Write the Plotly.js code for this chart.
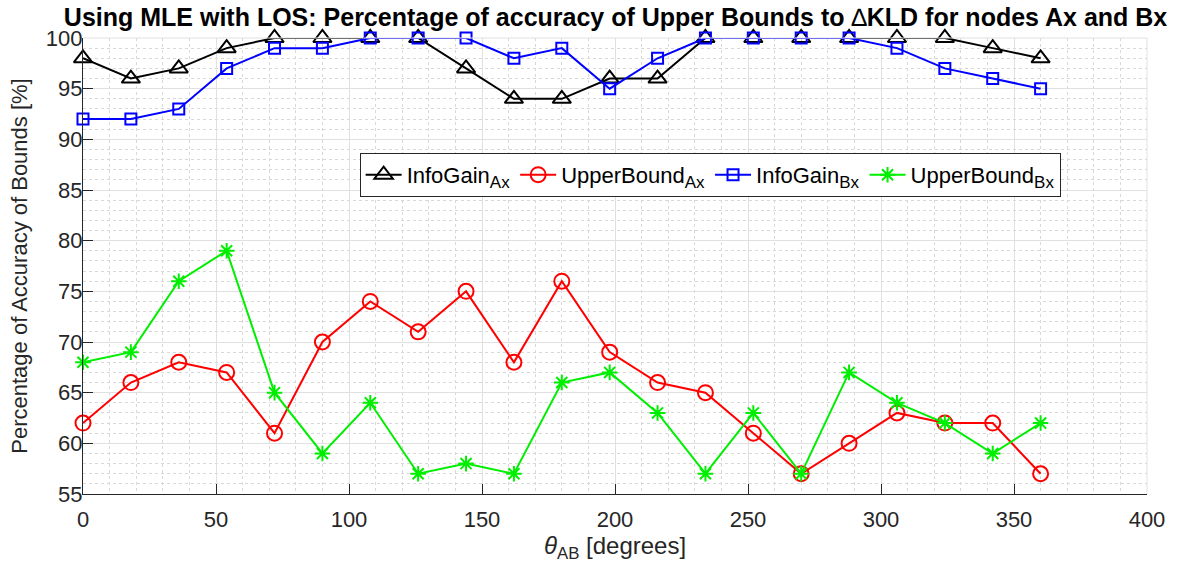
<!DOCTYPE html>
<html>
<head>
<meta charset="utf-8">
<script src="https://cdn.plot.ly/plotly-3.0.1.min.js"></script>
<style>html,body{margin:0;padding:0;background:#fff;}#chart{width:1177px;height:565px;}</style>
</head>
<body>
<div id="chart"></div>
<script>
// Angle between nodes A and B (degrees)
const thetaAB = [0,18,36,54,72,90,108,126,144,162,180,198,216,234,252,270,288,306,324,342,360];

// Accuracy percentages per method
const infoGainAx   = [98,96,97,99,100,100,100,100,97,94,94,96,96,100,100,100,100,100,100,99,98];
const upperBoundAx = [62,66,68,67,61,70,74,71,75,68,76,69,66,65,61,57,60,63,62,62,57];
const infoGainBx   = [92,92,93,97,99,99,100,100,100,98,99,95,98,100,100,100,100,99,97,96,95];
const upperBoundBx = [68,69,76,79,65,59,64,57,58,57,66,67,63,57,63,57,67,64,62,59,62];

const sub = s => '<sub><span style="font-size:17px">' + s + '</span></sub>';
const seriesNames = ['InfoGain' + sub('Ax'), 'UpperBound' + sub('Ax'), 'InfoGain' + sub('Bx'), 'UpperBound' + sub('Bx')];

function trace(y, name, color, symbol, size) {
  return {
    x: thetaAB, y: y, name: name, type: 'scatter', mode: 'lines+markers',
    line: {color: color, width: 2},
    marker: {symbol: symbol, size: size, color: color, line: {color: color, width: 2}},
    cliponaxis: false
  };
}

const data = [
  trace(infoGainAx,   seriesNames[0], '#000000', 'triangle-up-open', 16),
  trace(upperBoundAx, seriesNames[1], '#ff0000', 'circle-open', 15),
  trace(infoGainBx,   seriesNames[2], '#0000ff', 'square-open', 11),
  trace(upperBoundBx, seriesNames[3], '#00ee00', 'asterisk-open', 13)
];

const fam = 'Liberation Sans, Arial, sans-serif';
const tickFont = {family: fam, size: 22, color: '#262626'};

const layout = {
  width: 1177, height: 565,
  margin: {l: 83, r: 30, t: 38, b: 71},
  paper_bgcolor: '#ffffff', plot_bgcolor: '#ffffff',
  showlegend: true,
  title: {
    text: '<b>Using MLE with LOS: Percentage of accuracy of Upper Bounds to <span style="font-weight:normal">\u2206</span>KLD for nodes Ax and Bx</b>',
    font: {family: fam, size: 25, color: '#000000'},
    x: 0.523, xanchor: 'center', y: 0.97, yanchor: 'middle'
  },
  xaxis: {
    range: [0, 400], dtick: 50, tick0: 0,
    showline: true, linecolor: '#262626', linewidth: 1.2,
    ticks: 'inside', ticklen: 10, tickcolor: '#262626',
    ticklabelstandoff: 5,
    showgrid: true, gridcolor: '#e0e0e0', gridwidth: 1,
    minor: {dtick: 10, showgrid: true, gridcolor: '#d8d8d8', griddash: 'dot', gridwidth: 1},
    zeroline: false, tickfont: tickFont,
    title: {text: '<i>\u03B8</i><sub>AB</sub> [degrees]', font: {family: fam, size: 24, color: '#262626'}, standoff: 0}
  },
  yaxis: {
    range: [55, 100], dtick: 5, tick0: 55,
    showline: true, linecolor: '#262626', linewidth: 1.2,
    ticks: 'inside', ticklen: 10, tickcolor: '#262626',
    ticklabelstandoff: -5,
    showgrid: true, gridcolor: '#e0e0e0', gridwidth: 1,
    minor: {dtick: 1, showgrid: true, gridcolor: '#d8d8d8', griddash: 'dot', gridwidth: 1},
    zeroline: false, tickfont: tickFont,
    title: {text: 'Percentage of Accuracy of Bounds [%]', font: {family: fam, size: 22, color: '#262626'}, standoff: 12}
  },
  legend: {
    orientation: 'h', x: 0.26, y: 0.748, xanchor: 'left', yanchor: 'top',
    bgcolor: '#ffffff', bordercolor: '#262626', borderwidth: 1,
    font: {family: fam, size: 22, color: '#000000'},
    itemwidth: 36, tracegroupgap: 0
  },
  shapes: [
    // light frame along the top and right edges of the plot area
    {type: 'line', xref: 'paper', yref: 'paper', x0: 0, x1: 1, y0: 1, y1: 1, line: {color: '#e0e0e0', width: 1}},
    {type: 'line', xref: 'paper', yref: 'paper', x0: 1, x1: 1, y0: 0, y1: 1, line: {color: '#e0e0e0', width: 1}}
  ]
};

Plotly.newPlot('chart', data, layout, {displayModeBar: false, staticPlot: true});
</script>
</body>
</html>
